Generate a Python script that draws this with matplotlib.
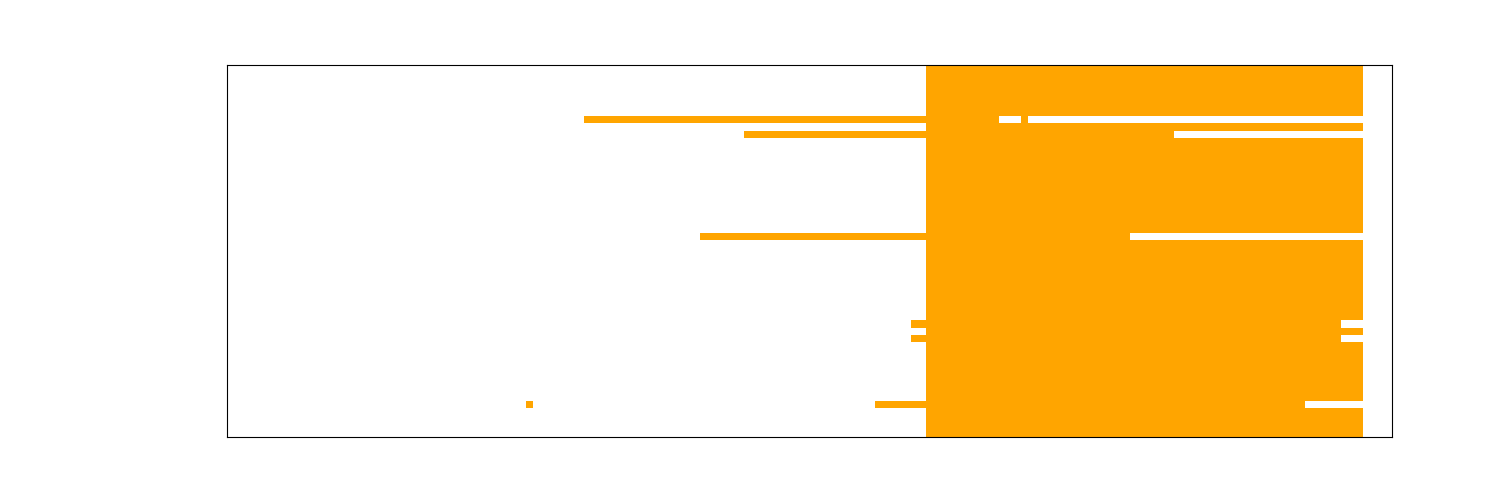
import numpy as np
import matplotlib
matplotlib.use("Agg")
import matplotlib.pyplot as plt
from matplotlib.colors import ListedColormap

# Grid dimensions (rows x columns of the raster)
n_rows = 51
n_cols = 160

# Default filled column span for every row (inclusive)
default_span = (96, 155)

# Rows that differ from the default: list of inclusive column runs
exception_rows = [7, 9, 23, 35, 37, 46]
exception_runs = [
    [(49, 105), (109, 109)],
    [(71, 129)],
    [(65, 123)],
    [(94, 152)],
    [(94, 152)],
    [(41, 41), (89, 147)],
]

grid = np.zeros((n_rows, n_cols))
for r in range(n_rows):
    runs = [default_span]
    if r in exception_rows:
        runs = exception_runs[exception_rows.index(r)]
    for a, b in runs:
        grid[r, a:b + 1] = 1

fig = plt.figure(figsize=(15.05, 4.8), dpi=100)
ax = fig.add_axes([227 / 1505, 43 / 480, 1165 / 1505, 372 / 480])
cmap = ListedColormap(["white", "orange"])
ax.imshow(grid, cmap=cmap, vmin=0, vmax=1, interpolation="nearest",
          aspect="auto", extent=(-0.5, n_cols - 0.5, n_rows - 0.5, -0.5))
ax.set_xticks([])
ax.set_yticks([])
fig.savefig("out.png", dpi=100)
